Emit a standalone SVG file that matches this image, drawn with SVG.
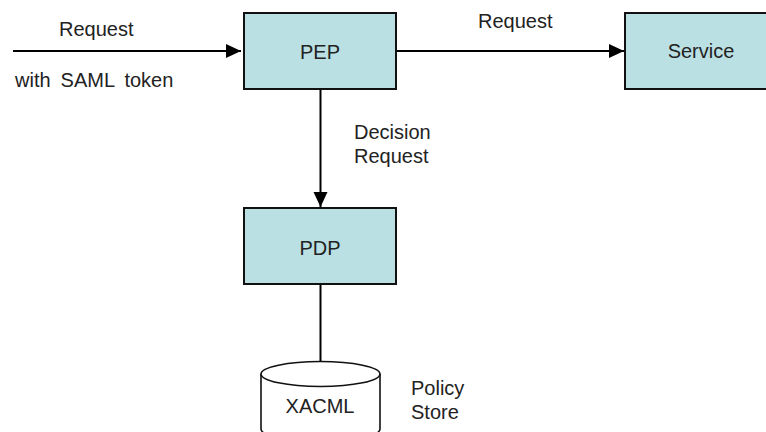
<svg xmlns="http://www.w3.org/2000/svg" width="766" height="432" viewBox="0 0 766 432">
  <style>
    .box { fill: #bae0e3; stroke: #111; stroke-width: 2; }
    .store { fill: #fff; stroke: #111; stroke-width: 1.6; }
    .wire { fill: none; stroke: #000; stroke-width: 2; }
    text { font-family: "Liberation Sans", Arial, sans-serif; font-size: 20px; fill: #222; }
    .mid { text-anchor: middle; }
  </style>
  <defs>
    <marker id="head" markerUnits="userSpaceOnUse" markerWidth="16" markerHeight="16" viewBox="0 0 16 16" refX="15" refY="8" orient="auto">
      <path d="M0,1 L15,8 L0,15 Z" fill="#000"/>
    </marker>
  </defs>
  <rect width="766" height="432" fill="#fff"/>

  <!-- connectors -->
  <g id="connectors">
    <line class="wire" x1="13" y1="51" x2="241" y2="51" marker-end="url(#head)"/>
    <line class="wire" x1="396" y1="51" x2="624" y2="51" marker-end="url(#head)"/>
    <line class="wire" x1="320.5" y1="89" x2="320.5" y2="207" marker-end="url(#head)"/>
    <line class="wire" x1="320.5" y1="284" x2="320.5" y2="361"/>
  </g>

  <!-- connector labels -->
  <g id="labels">
    <text x="59" y="36">Request</text>
    <text x="15" y="87" word-spacing="4.5">with SAML token</text>
    <text x="478" y="28">Request</text>
    <text x="354" y="139">Decision</text>
    <text x="354" y="163">Request</text>
    <text x="411" y="395">Policy</text>
    <text x="411" y="419">Store</text>
  </g>

  <g id="pep">
    <rect class="box" x="244" y="13" width="152" height="76"/>
    <text class="mid" x="320" y="59">PEP</text>
  </g>

  <g id="service">
    <rect class="box" x="625" y="13" width="152" height="76"/>
    <text class="mid" x="701" y="58">Service</text>
  </g>

  <g id="pdp">
    <rect class="box" x="244" y="208" width="152" height="76"/>
    <text class="mid" x="320" y="255">PDP</text>
  </g>

  <g id="xacml">
    <path class="store" d="M261,374 L261,429 A59.5,12.5 0 0 0 380,429 L380,374"/>
    <ellipse class="store" cx="320.5" cy="374" rx="59.5" ry="12.5"/>
    <text class="mid" x="320" y="413">XACML</text>
  </g>
</svg>
